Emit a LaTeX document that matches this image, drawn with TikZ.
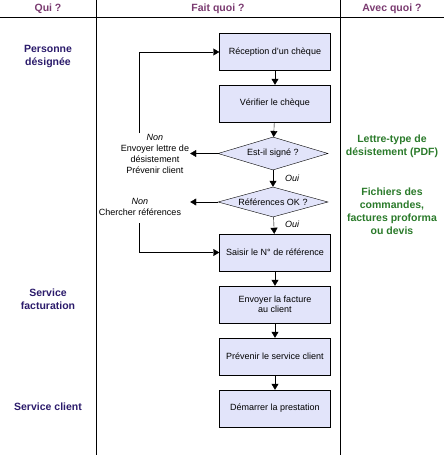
\documentclass[tikz,border=0pt]{standalone}
\usepackage{fontspec}
\setmainfont{Liberation Sans}
\usetikzlibrary{positioning,arrows.meta,shapes.geometric}
\usepackage{xcolor}
\definecolor{headcol}{HTML}{7A3A70}
\definecolor{quicol}{HTML}{2B1B6B}
\definecolor{aveccol}{HTML}{2A7A2A}
\definecolor{boxfill}{HTML}{E2E4FA}

\begin{document}
\begin{tikzpicture}[x=1pt, y=-1pt,
        stepbox/.style={draw, thin, rectangle, fill=boxfill, minimum width=111pt, minimum height=37pt, align=center, font=\fontsize{9}{10.5}\selectfont},
        testbox/.style={draw, thin, diamond, fill=boxfill, minimum width=110pt, minimum height=33pt, aspect=3.4, inner sep=0pt, font=\fontsize{9}{10.5}\selectfont},
        arrow/.style={-{Triangle[width=7pt,length=6pt]}},
        head/.style={font=\bfseries\fontsize{10.5}{12}\selectfont, text=headcol},
        qui/.style={font=\bfseries\fontsize{10.5}{13}\selectfont, text=quicol, align=center},
        avec/.style={font=\bfseries\fontsize{10.5}{13}\selectfont, text=aveccol, align=center},
        note/.style={font=\fontsize{9}{11}\selectfont, align=center, inner sep=1pt}]
        \useasboundingbox (0,0) rectangle (444,455);

        % Lanes
        \draw[line width=0.8pt] (0,17) -- (444,17);
        \draw[line width=0.8pt] (96,0) -- (96,455);
        \draw[line width=0.8pt] (340,0) -- (340,455);

        % Headers
        \node[head] (hqui) at (48,8.5) {Qui ?};
        \node[head] (hfait) at (218,8.5) {Fait quoi ?};
        \node[head] (havec) at (392,8.5) {Avec quoi ?};

        % Who
        \node[qui] (pers) at (48,56.5) {Personne\\désignée};
        \node[qui] (fact) at (48,299.5) {Service\\facturation};
        \node[qui] (clnt) at (48,407) {Service client};

        % With what
        \node[avec] (lettre) at (392,146.5) {Lettre-type de\\désistement (PDF)};
        \node[avec] (fich) at (392,211.5) {Fichiers des\\commandes,\\factures proforma\\ou devis};

        % Steps
        \node[stepbox] (recv) at (275,52) {Réception d'un chèque};
        \node[stepbox] (verif) at (275,103.5) {Vérifier le chèque};
        \node[testbox] (sig) at (273,153.5) {Est-il signé ?};
        \node[testbox, minimum height=30pt] (refok) at (273,202) {Références OK ?};
        \node[stepbox] (saisir) at (275,252.5) {Saisir le N° de référence};
        \node[stepbox] (envoi) at (275,304.5) {Envoyer la facture\\au client};
        \node[stepbox] (prev) at (275,356.5) {Prévenir le service client};
        \node[stepbox] (dem) at (275,408.5) {Démarrer la prestation};

        \draw[arrow] (recv) -- (verif);
        \draw[arrow] (verif) -- (sig);
        \draw[arrow] (sig) -- (refok);
        \draw[arrow] (refok) -- (saisir);
        \draw[arrow] (saisir) -- (envoi);
        \draw[arrow] (envoi) -- (prev);
        \draw[arrow] (prev) -- (dem);

        % Oui branches
        \node[note, anchor=west] (oui1) at (284,178) {\textit{Oui}};
        \node[note, anchor=west] (oui2) at (284,224.5) {\textit{Oui}};

        % Non branches
        \node[note] (nosig) at (155,154) {\textit{Non}\\Envoyer lettre de\\désistement\\Prévenir client};
        \node[note] (noref) at (140,206.5) {\textit{Non}\\Chercher références};
        \draw[arrow] (sig.west) -- (sig.west -| nosig.east);
        \draw[arrow] (refok.west) -- (refok.west -| nosig.east);

        % Loops back
        \coordinate (loop1) at (139,133);
        \coordinate (loop2) at (139,223);
        \draw[arrow] (loop1) |- (recv.west);
        \draw[arrow] (loop2) |- (saisir.west);
    \end{tikzpicture}
\end{document}
